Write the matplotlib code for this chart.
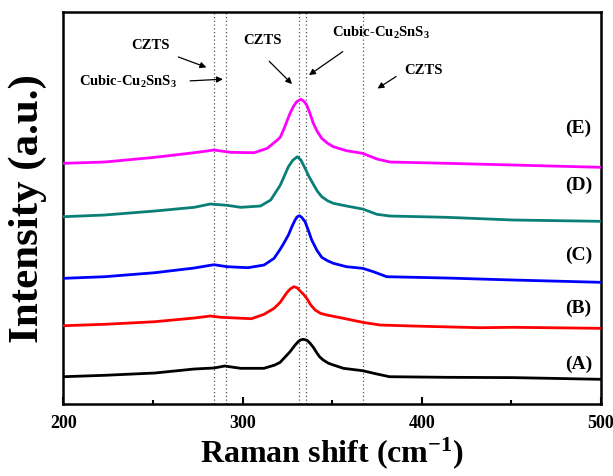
import matplotlib
matplotlib.use("Agg")
import matplotlib.pyplot as plt
from matplotlib.ticker import MultipleLocator

plt.rcParams['font.family'] = ['Liberation Serif', 'DejaVu Serif']
plt.rcParams['font.weight'] = 'bold'
plt.rcParams['mathtext.fontset'] = 'custom'
plt.rcParams['mathtext.rm'] = 'Liberation Serif:bold'
plt.rcParams['mathtext.it'] = 'Liberation Serif:bold:italic'
plt.rcParams['mathtext.bf'] = 'Liberation Serif:bold'

# spectra (x in cm-1, y in arbitrary stacked units)
x_a = [200, 223, 251, 273, 284, 290, 299, 312, 318, 321, 326.5, 329, 331, 332.5, 334, 336, 337.7, 339.5, 341.4, 343, 345, 348, 350.7, 356.3, 367, 375, 382, 414, 451, 500]
y_a = [27.6, 29, 31.3, 35.3, 36.3, 38.3, 36, 36, 39.3, 42, 52.6, 58.5, 62.6, 64.5, 65, 64, 61, 57, 51.6, 47.5, 44.3, 41, 39.3, 36, 33.6, 30.3, 27.6, 27, 26.7, 25]

x_b = [200, 223, 251, 273, 282, 288, 305, 312, 317.6, 321, 324.7, 326.7, 328.7, 330.5, 332, 334, 335.8, 338, 340.5, 343.5, 347, 356.3, 367, 376.7, 395, 432.5, 451, 500]
y_b = [78.6, 80, 82.6, 86.3, 88.3, 87, 85.6, 90, 96, 102, 111.6, 115.5, 117.6, 116.5, 113.6, 110, 106, 99.5, 94.3, 91, 89.3, 86, 82, 79.3, 78.3, 76.6, 77, 76]

x_c = [200, 223, 251, 273, 284, 291.5, 303, 312, 317.6, 321, 323, 325.6, 327.5, 329.3, 330.5, 331.7, 333, 334.9, 336.7, 338.6, 341.5, 344.2, 347.5, 350.7, 358, 367, 373, 380.5, 414, 451, 500]
y_c = [126, 127.6, 131.6, 136.3, 139.6, 137.6, 136.6, 139.3, 146, 155, 161, 169.3, 177.5, 184.3, 187.5, 188.6, 187, 182.6, 174, 164.3, 154, 147, 143.5, 141, 137.6, 136, 132.6, 127.6, 126.3, 124.3, 122]

x_d = [200, 223, 251, 273, 282, 291.5, 299, 310, 315.7, 321, 325.6, 328, 330.6, 332.5, 334.9, 337, 339.5, 341.8, 344.2, 347.5, 350.7, 358, 367, 375, 382.3, 414, 451, 500]
y_d = [187.6, 189.3, 193.3, 197, 200.3, 199, 197, 198.3, 204.3, 219, 237.6, 244, 247.6, 244.5, 236, 228, 220, 213, 207.6, 203.5, 201, 198.3, 195.3, 190, 188.3, 187, 184.3, 183]

x_e = [200, 223, 251, 273, 284, 293.4, 306.4, 313.8, 319.4, 321, 323, 326.5, 328.3, 330.2, 332.4, 334, 335.8, 337.6, 339.5, 341.8, 344.2, 347.5, 350.7, 358, 367, 375, 382.3, 414, 451, 500]
y_e = [241, 242.3, 247, 251.6, 254.3, 252, 251.6, 256, 264.3, 267, 275, 291, 297.5, 302.6, 305, 303.5, 299.3, 291, 281, 272.5, 266, 261, 257.6, 253.6, 251, 245.3, 242.3, 241, 239.3, 237]

series_x = [x_a, x_b, x_c, x_d, x_e]
series_y = [y_a, y_b, y_c, y_d, y_e]
colors = ['black', '#ff0000', '#0000ff', '#0a7f78', '#ff00ff']
labels = ['(A)', '(B)', '(C)', '(D)', '(E)']
label_y = [40, 96, 149, 219, 276]

peak_lines = [284, 290.5, 331.5, 335.3, 367]

# annotation texts, text positions and arrow tips
notes = ['CZTS', 'Cubic-Cu$_2$SnS$_3$', 'CZTS', 'Cubic-Cu$_2$SnS$_3$', 'CZTS']
note_xy = [(248.8, 358.6), (236, 322), (311, 364.3), (377, 371), (401, 334.3)]
arrow_from = [(262.7, 348.3), (269.2, 323.3), (313.8, 345), (357.2, 354.3), (387, 329.3)]
arrow_to = [(281.3, 336), (290.6, 325.3), (328.7, 318.3), (335.8, 327.6), (374, 314.3)]

fig = plt.figure(figsize=(6.13, 4.76), dpi=100)
ax = fig.add_axes([0.1033, 0.1506, 0.8771, 0.8235])

for xv in peak_lines:
    ax.axvline(xv, color='#555555', linestyle=(0, (1, 2)), linewidth=0.9, zorder=1)

for i in range(len(series_x)):
    ax.plot(series_x[i], series_y[i], color=colors[i], linewidth=2.0, zorder=3)
    ax.text(487.5, label_y[i], labels[i], fontsize=14, fontweight='bold', ha='center', va='center')

for i in range(len(notes)):
    ax.text(note_xy[i][0], note_xy[i][1], notes[i], fontsize=10.5, fontweight='bold', ha='center', va='center')
    ax.annotate('', xy=arrow_to[i], xytext=arrow_from[i],
                arrowprops=dict(arrowstyle='-|>', color='black', lw=0.9, mutation_scale=9))

ax.set_xlim(200, 500)
ax.set_ylim(0, 392)
ax.set_yticks([])
ax.xaxis.set_major_locator(MultipleLocator(100))
ax.xaxis.set_minor_locator(MultipleLocator(50))
ax.tick_params(axis='x', which='major', direction='in', length=5, width=1.5, labelsize=13, pad=8)
ax.tick_params(axis='x', which='minor', direction='in', length=3, width=1.5)
for spine in ax.spines.values():
    spine.set_linewidth(1.8)

ax.set_xlabel('Raman shift (cm$^{-1}$)', fontsize=23, fontweight='bold', labelpad=2)
ax.set_ylabel('Intensity (a.u.)', fontsize=31, fontweight='bold')
ax.yaxis.set_label_coords(-0.03, 0.5)

plt.savefig('out.png', dpi=100)
